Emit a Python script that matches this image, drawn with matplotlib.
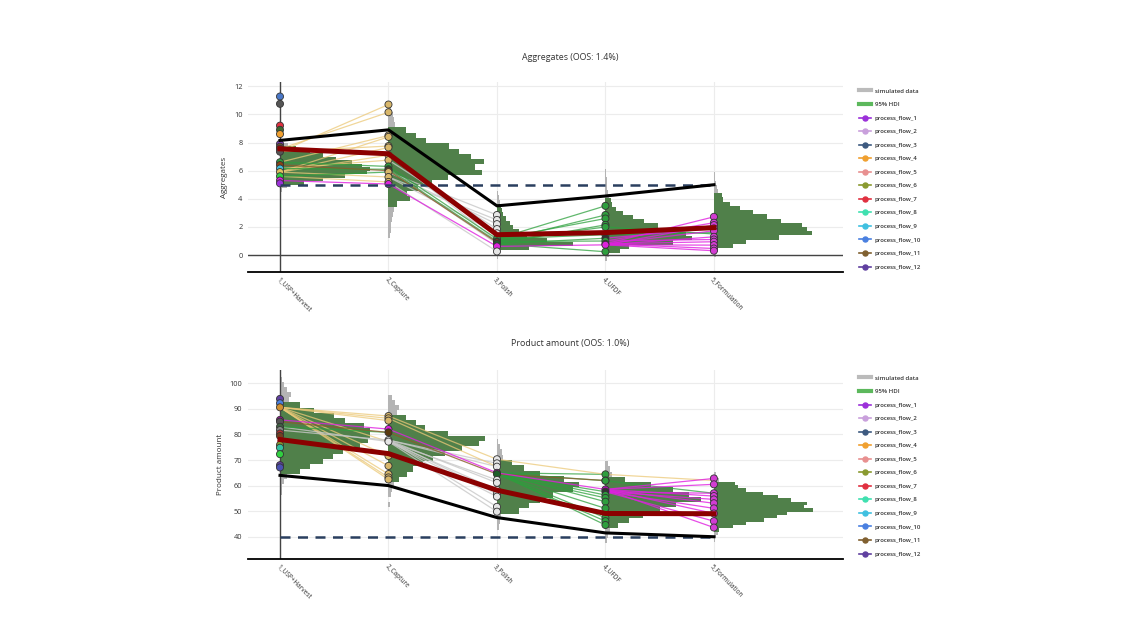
import matplotlib
matplotlib.use('Agg')
import matplotlib.pyplot as plt
from matplotlib.lines import Line2D

plt.rcParams['font.family'] = ['Open Sans', 'DejaVu Sans']

steps = ['1_USP+Harvest', '2_Capture', '3_Polish', '4_UFDF', '5_Formulation']
flow_labels = ['process_flow_%d' % i for i in range(1, 13)]
flow_colors = ['#9b30d9', '#c9a0dc', '#3d5a80', '#f0a030', '#e89090', '#8a9a30',
               '#e03040', '#40e0b0', '#40c0e0', '#4a80e0', '#806030', '#6040a0']

# ---------------- Aggregates ----------------
agg_title = 'Aggregates (OOS: 1.4%)'
agg_limit = 5.0
agg_black = [8.15, 8.9, 3.5, 4.2, 5.0]
agg_red = [7.55, 7.2, 1.45, 1.6, 1.95]

# histograms of simulated data per step: first bin, bin size, bar lengths, 95% HDI
agg_hist_start = [4.5, 1.2, -0.25, -0.45, -0.1]
agg_hist_bin = [0.25, 0.375, 0.3, 0.3, 0.3]
agg_hist_len = [
    [0.02, 0.06, 0.22, 0.40, 0.60, 0.80, 0.83, 0.76, 0.66, 0.52, 0.40, 0.28, 0.15, 0.07, 0.02],
    [0.01, 0.02, 0.02, 0.03, 0.04, 0.05,
     0.08, 0.20, 0.17, 0.27, 0.40, 0.55, 0.86, 0.80, 0.88, 0.76, 0.65, 0.56, 0.35, 0.25, 0.16,
     0.06, 0.05, 0.04, 0.02],
    [0.01, 0.02, 0.30, 0.70, 0.46, 0.28, 0.20, 0.15, 0.12, 0.08, 0.06, 0.05, 0.04, 0.025, 0.02, 0.01],
    [0.01, 0.03, 0.13, 0.22, 0.62, 0.80, 0.74, 0.59, 0.48, 0.36, 0.25, 0.16, 0.10, 0.06, 0.05,
     0.03, 0.02, 0.015, 0.01, 0.01, 0.005, 0.005],
    [0.02, 0.04, 0.18, 0.30, 0.60, 0.90, 0.86, 0.81, 0.62, 0.49, 0.36, 0.24, 0.15, 0.08, 0.07,
     0.04, 0.03, 0.02, 0.01, 0.01, 0.005, 0.005],
]
agg_hdi = [(5.0, 7.75), (3.45, 9.075), (0.35, 3.65), (0.15, 4.05), (0.5, 4.4)]

# observed batches at each step and marker colours
agg_pts = [
    [11.27, 10.75, 9.2, 8.9, 8.6, 7.9, 7.7, 7.55, 7.35, 6.6, 6.4, 6.15, 5.9, 5.6, 5.3, 5.1],
    [10.7, 10.15, 8.5, 8.4, 7.75, 7.65, 7.1, 6.75, 6.3, 6.1, 6.0, 5.9, 5.55, 5.2, 5.05],
    [2.85, 2.5, 2.2, 1.85, 1.55, 1.15, 0.97, 0.9, 0.8, 0.62, 0.26],
    [3.5, 2.85, 2.6, 2.15, 2.0, 1.45, 1.2, 1.0, 0.8, 0.73, 0.24],
    [2.72, 2.3, 2.13, 1.9, 1.73, 1.3, 1.11, 0.95, 0.71, 0.47, 0.31],
]
agg_pt_cols = [
    ['#4a78c8', '#555555', '#e03040', '#3f6a30', '#f0a030', '#7a40b0', '#6a5030', '#8b2020',
     '#555555', '#2ca040', '#8b4513', '#40c0e0', '#e0c060', '#30d040', '#dd22dd', '#9b30d9'],
    ['#d9b76a'] * 8 + ['#2e9e3e', '#1f5f2a', '#8b4513', '#d9b76a', '#d9b76a', '#d9b76a', '#dd22dd'],
    ['#e6e6e6'] * 5 + ['#2e9e3e', '#333333', '#8b4513', '#1f5f2a', '#dd22dd', '#e6e6e6'],
    ['#2e9e3e'] * 6 + ['#333333', '#2e9e3e', '#333333', '#dd22dd', '#2e9e3e'],
    ['#d23cd2'] * 11,
]

# batch segments between neighbouring steps (value at step k, value at step k+1)
agg_yellow_01 = [(7.35, 10.7), (7.55, 10.15), (6.6, 8.5), (5.9, 8.4), (7.35, 7.75),
                 (5.9, 7.65), (5.9, 7.1), (6.15, 6.75), (5.9, 5.55), (5.6, 5.2)]
agg_green_01 = [(6.6, 6.3), (6.15, 6.1), (5.6, 5.9)]
agg_brown_01 = [(6.4, 6.0)]
agg_magenta_01 = [(5.3, 5.05)]
agg_gray_12 = [(5.9, 2.85), (5.55, 2.5), (5.9, 2.2), (6.75, 1.85), (5.55, 1.55),
               (5.2, 0.26), (7.1, 1.0), (6.1, 0.8)]
agg_green_12 = [(6.3, 1.15), (6.1, 0.97)]
agg_brown_12 = [(6.0, 0.9)]
agg_magenta_12 = [(5.05, 0.62)]
agg_green_23 = [(1.15, 3.5), (0.97, 2.85), (1.15, 2.6), (0.8, 2.15), (0.97, 2.0),
                (1.15, 1.45), (0.8, 1.2), (0.97, 1.0), (0.8, 0.24)]
agg_magenta_23 = [(0.62, 0.73)]
agg_green_34 = [(1.45, 1.6), (2.0, 1.5)]
agg_magenta_34 = [(0.8, 2.72), (1.0, 2.3), (0.73, 2.13), (1.2, 1.9), (0.8, 1.73),
                  (0.73, 1.3), (1.0, 1.11), (0.8, 0.95), (0.73, 0.71), (0.8, 0.47), (0.73, 0.31)]

# ---------------- Product amount ----------------
pa_title = 'Product amount (OOS: 1.0%)'
pa_limit = 40.0
pa_black = [64.0, 60.0, 47.5, 41.5, 40.0]
pa_red = [78.0, 72.5, 58.2, 49.1, 49.0]

pa_hist_start = [54.5, 51.5, 42.7, 37.5, 38.1]
pa_hist_bin = [2.0, 2.0, 2.1, 2.0, 1.3]
pa_hist_len = [
    [0.01, 0.015, 0.02, 0.04, 0.06,
     0.18, 0.28, 0.40, 0.49, 0.58, 0.74, 0.81, 0.83, 0.83, 0.77, 0.60, 0.50, 0.31, 0.18,
     0.08, 0.10, 0.06, 0.04, 0.02, 0.01],
    [0.015, 0.0, 0.02, 0.03, 0.05,
     0.10, 0.17, 0.23, 0.32, 0.41, 0.52, 0.68, 0.83, 0.89, 0.55, 0.34, 0.25, 0.16,
     0.08, 0.10, 0.06, 0.03],
    [0.02, 0.03, 0.04,
     0.20, 0.30, 0.40, 0.52, 0.70, 0.76, 0.62, 0.40, 0.25, 0.14,
     0.06, 0.05, 0.03, 0.01],
    [0.01, 0.02, 0.04,
     0.12, 0.22, 0.35, 0.50, 0.65, 0.88, 0.77, 0.62, 0.42, 0.18,
     0.06, 0.04, 0.02],
    [0.01, 0.02, 0.04,
     0.05, 0.18, 0.30, 0.46, 0.58, 0.67, 0.91, 0.83, 0.86, 0.71, 0.59, 0.45, 0.30, 0.22, 0.19,
     0.05, 0.03, 0.02],
]
pa_hdi = [(64.5, 92.5), (61.5, 87.5), (49.0, 70.0), (43.5, 63.5), (42.0, 61.5)]

pa_pts = [
    [93.9, 92.2, 90.6, 85.7, 85.0, 83.0, 81.7, 80.4, 79.4, 75.9, 74.8, 72.3, 68.0, 67.1],
    [87.2, 86.3, 85.4, 82.1, 80.8, 77.8, 77.2, 71.6, 67.7, 64.5, 63.2, 62.4],
    [70.3, 68.7, 67.4, 65.0, 64.5, 62.2, 61.1, 58.3, 56.7, 55.7, 51.7, 49.8],
    [64.4, 62.0, 61.9, 58.5, 57.6, 56.3, 55.2, 53.7, 51.1, 47.4, 46.1, 44.6],
    [62.8, 60.5, 57.0, 55.9, 54.6, 53.1, 51.1, 49.1, 46.1, 43.6],
]
pa_pt_cols = [
    ['#6040a0', '#4a80e0', '#d09030', '#9b10a0', '#555555', '#3d6040', '#888888', '#b03030',
     '#704020', '#8a9a30', '#30c0a0', '#30d040', '#6040a0', '#4a50b0'],
    ['#d9b76a'] * 3 + ['#dd22dd', '#5a3a10', '#e6e6e6', '#e6e6e6'] + ['#d9b76a'] * 5,
    ['#e6e6e6'] * 3 + ['#b010b0', '#1f5f2a'] + ['#e6e6e6'] * 7,
    ['#2e9e3e', '#6040a0', '#2e9e3e', '#b010b0', '#333333'] + ['#2e9e3e'] * 7,
    ['#d23cd2'] * 10,
]

pa_yellow_01 = [(90.6, 87.2), (90.6, 86.3), (90.6, 85.4), (90.6, 77.2), (90.6, 71.6),
                (90.6, 67.7), (90.6, 64.5), (90.6, 63.2), (90.6, 62.4)]
pa_gray_01 = [(81.7, 77.8), (83.0, 77.2)]
pa_green_01 = [(83.0, 80.8)]
pa_brown_01 = [(85.0, 80.8)]
pa_magenta_01 = [(85.7, 82.1)]
pa_gray_12 = [(77.8, 68.7), (77.2, 62.2), (77.8, 61.1), (77.2, 58.3), (77.8, 56.7),
              (77.2, 55.7), (77.8, 51.7), (77.2, 49.8), (77.8, 67.4)]
pa_yellow_12 = [(87.2, 70.3), (86.3, 67.4)]
pa_brown_12 = [(80.8, 64.5)]
pa_magenta_12 = [(82.1, 65.0)]
pa_green_23 = [(65.0, 64.4), (65.0, 61.9), (64.5, 57.6), (65.0, 56.3), (64.5, 55.2),
               (65.0, 53.7), (64.5, 51.1), (65.0, 47.4), (64.5, 46.1), (65.0, 44.6)]
pa_yellow_23 = [(70.3, 64.4)]
pa_brown_23 = [(64.5, 62.0)]
pa_magenta_23 = [(65.0, 58.5)]
pa_green_34 = [(61.9, 57.0)]
pa_yellow_34 = [(64.4, 62.0)]
pa_magenta_34 = [(58.5, 62.8), (58.5, 60.5), (57.6, 57.0), (58.5, 55.9), (57.6, 54.6),
                 (58.5, 53.1), (57.6, 51.1), (58.5, 49.1), (57.6, 46.1), (58.5, 43.6)]

GREEN = '#50804a'
GREY = '#b4b4b4'
SEG_STYLE = {'yellow': ('#ecc978', 0.75), 'gray': ('#c8c8c8', 0.8), 'green': ('#2ca03c', 0.75),
             'magenta': ('#e020e0', 0.8), 'brown': ('#8b5a2b', 0.8)}


def draw_panel(ax, hist_start, hist_bin, hist_len, hdi, pts, pt_cols, segs,
               black, red, limit, ylim, yticks, ylabel):
    for k in range(len(steps)):
        lo, hi = hdi[k]
        ys = [hist_start[k] + i * hist_bin[k] for i in range(len(hist_len[k]))]
        cols = [GREEN if lo - 1e-6 <= y < hi - 1e-6 else GREY for y in ys]
        ax.barh(ys, hist_len[k], height=hist_bin[k], left=k, align='edge',
                color=cols, linewidth=0, zorder=1)

    for step, kind, pairs in segs:
        col, alpha = SEG_STYLE[kind]
        for a, b in pairs:
            ax.plot([step, step + 1], [a, b], color=col, lw=0.9, alpha=alpha, zorder=2)

    for k in range(len(steps)):
        ax.scatter([k] * len(pts[k]), pts[k], s=26, c=pt_cols[k], edgecolors='#333333',
                   linewidths=0.6, zorder=4)

    ax.plot([0, len(steps) - 1], [limit, limit], color='#2a3f5f', lw=1.8,
            dashes=(4, 3), zorder=5)
    ax.plot(range(len(steps)), black, color='black', lw=2.2, zorder=5)
    ax.plot(range(len(steps)), red, color='#8b0000', lw=3.6, zorder=5)

    ax.set_xlim(-0.295, 5.19)
    ax.set_ylim(*ylim)
    ax.set_xticks(range(len(steps)))
    ax.set_xticklabels(steps, rotation=-45, ha='left', va='top', rotation_mode='anchor',
                       fontsize=4.7, color='#333333')
    ax.set_yticks(yticks)
    ax.set_yticklabels([str(t) for t in yticks], fontsize=5.3, color='#333333')
    ax.tick_params(length=0, pad=4)
    ax.tick_params(axis='x', pad=3)
    ax.grid(True, color='#ececec', lw=0.8, zorder=0)
    ax.set_axisbelow(True)
    ax.axvline(0, color='#444444', lw=1.0, zorder=1.5)
    if ylim[0] < 0:
        ax.axhline(0, color='#444444', lw=1.0, zorder=1.5)
    for s in ['top', 'right', 'left']:
        ax.spines[s].set_visible(False)
    ax.spines['bottom'].set_color('black')
    ax.spines['bottom'].set_linewidth(1.3)
    ax.set_ylabel(ylabel, fontsize=5.8, color='#333333', labelpad=4)


def add_legend(fig, top_px):
    handles = [Line2D([0], [0], color='#bbbbbb', lw=3),
               Line2D([0], [0], color='#5cb85c', lw=3)]
    for c in flow_colors:
        handles.append(Line2D([0], [0], color=c, lw=1.2, marker='o', markersize=3.6,
                              markerfacecolor=c, markeredgecolor=c))
    fig.legend(handles, ['simulated data', '95% HDI'] + flow_labels, loc='upper left',
               bbox_to_anchor=(857 / 1140, 1 - top_px / 642), frameon=False,
               prop={'size': 4.3, 'weight': 'semibold'}, labelspacing=1.4,
               handlelength=2.0, handletextpad=0.6, borderaxespad=0, labelcolor='#333333')


fig = plt.figure(figsize=(11.4, 6.42), dpi=100)
ax1 = fig.add_axes([248 / 1140, 1 - 272 / 642, 595 / 1140, 190 / 642])
ax2 = fig.add_axes([248 / 1140, 1 - 559 / 642, 595 / 1140, 189 / 642])

agg_segs = [(0, 'yellow', agg_yellow_01), (0, 'green', agg_green_01), (0, 'brown', agg_brown_01),
            (0, 'magenta', agg_magenta_01), (1, 'gray', agg_gray_12), (1, 'green', agg_green_12),
            (1, 'brown', agg_brown_12), (1, 'magenta', agg_magenta_12), (2, 'green', agg_green_23),
            (2, 'magenta', agg_magenta_23), (3, 'green', agg_green_34), (3, 'magenta', agg_magenta_34)]
pa_segs = [(0, 'yellow', pa_yellow_01), (0, 'gray', pa_gray_01), (0, 'green', pa_green_01),
           (0, 'brown', pa_brown_01), (0, 'magenta', pa_magenta_01), (1, 'gray', pa_gray_12),
           (1, 'yellow', pa_yellow_12), (1, 'brown', pa_brown_12), (1, 'magenta', pa_magenta_12),
           (2, 'green', pa_green_23), (2, 'yellow', pa_yellow_23), (2, 'brown', pa_brown_23),
           (2, 'magenta', pa_magenta_23), (3, 'green', pa_green_34), (3, 'yellow', pa_yellow_34),
           (3, 'magenta', pa_magenta_34)]

draw_panel(ax1, agg_hist_start, agg_hist_bin, agg_hist_len, agg_hdi, agg_pts, agg_pt_cols,
           agg_segs, agg_black, agg_red, agg_limit, (-1.2, 12.3), list(range(0, 13, 2)),
           'Aggregates')
draw_panel(ax2, pa_hist_start, pa_hist_bin, pa_hist_len, pa_hdi, pa_pts, pa_pt_cols,
           pa_segs, pa_black, pa_red, pa_limit, (31.3, 105.2), list(range(40, 101, 10)),
           'Product amount')

fig.text(0.5, 1 - 57 / 642, agg_title, ha='center', va='center', fontsize=6.4, color='#333333')
fig.text(0.5, 1 - 344 / 642, pa_title, ha='center', va='center', fontsize=6.4, color='#333333')
add_legend(fig, 86)
add_legend(fig, 373)

fig.savefig('out.png', dpi=100)
